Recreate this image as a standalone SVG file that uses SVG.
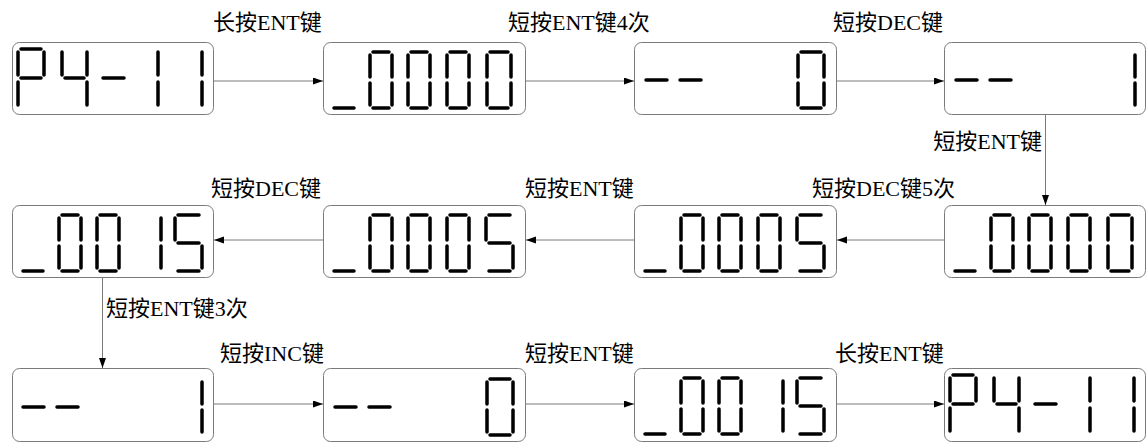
<svg xmlns="http://www.w3.org/2000/svg" width="1147" height="444" viewBox="0 0 1147 444">
<style>
.box{fill:#fff;stroke:#7a7a7a;stroke-width:1}
.seg{fill:none;stroke:#000;stroke-width:3.5;stroke-linecap:round}
.conn{fill:none;stroke:#7a7a7a;stroke-width:1;marker-end:url(#arr)}
.lbl{font-family:"Liberation Serif","Noto Sans CJK SC",serif;font-size:22px;fill:#000}
</style>
<defs>
<marker id="arr" markerUnits="userSpaceOnUse" markerWidth="11" markerHeight="8" refX="10" refY="3.5" orient="auto">
<path d="M0,0 L10,3.5 L0,7 z" fill="#000"/>
</marker>
<path id="p411" class="seg" d="M9,7H29 M6,10V33 M32,10V33 M9,36H29 M6,40V63 M50,10V33 M75,10V33 M53,36H72 M75,40V63 M91,36H112 M146,10V33 M146,40V63 M190,10V33 M190,40V63"/>
<path id="u0000" class="seg" d="M11,66H31 M50,10H66 M47,13V35 M69,13V35 M47,41V63 M69,41V63 M50,66H66 M88,10H104 M85,13V35 M107,13V35 M85,41V63 M107,41V63 M88,66H104 M127,10H143 M124,13V35 M146,13V35 M124,41V63 M146,41V63 M127,66H143 M167,10H185 M164,13V35 M188,13V35 M164,41V63 M188,41V63 M167,66H185"/>
<path id="dd0" class="seg" d="M12,38H33 M46,38H67 M167,10H187 M164,13V35 M190,13V35 M164,41V63 M190,41V63 M167,66H187"/>
<path id="dd1" class="seg" d="M12,38H33 M46,38H67 M191,13V35 M191,41V63"/>
<path id="u0005" class="seg" d="M11,66H31 M50,10H66 M47,13V35 M69,13V35 M47,41V63 M69,41V63 M50,66H66 M88,10H104 M85,13V35 M107,13V35 M85,41V63 M107,41V63 M88,66H104 M127,10H143 M124,13V35 M146,13V35 M124,41V63 M146,41V63 M127,66H143 M166,10H187 M163,13V35 M166,38H187 M190,41V63 M166,66H187"/>
<path id="u0015" class="seg" d="M11,66H31 M50,10H66 M47,13V35 M69,13V35 M47,41V63 M69,41V63 M50,66H66 M88,10H104 M85,13V35 M107,13V35 M85,41V63 M107,41V63 M88,66H104 M149,13V35 M149,41V63 M166,10H187 M163,13V35 M166,38H187 M190,41V63 M166,66H187"/>
</defs>

<g id="n1" transform="translate(12,42)"><rect class="box" x="0.5" y="0.5" width="201" height="72" rx="7"/><use href="#p411"/></g>
<g id="n2" transform="translate(323,42)"><rect class="box" x="0.5" y="0.5" width="202" height="72" rx="7"/><use href="#u0000"/></g>
<g id="n3" transform="translate(634,42)"><rect class="box" x="0.5" y="0.5" width="202" height="72" rx="7"/><use href="#dd0"/></g>
<g id="n4" transform="translate(944,42)"><rect class="box" x="0.5" y="0.5" width="201" height="72" rx="7"/><use href="#dd1"/></g>

<g id="n5" transform="translate(944,205)"><rect class="box" x="0.5" y="0.5" width="201" height="72" rx="7"/><use href="#u0000"/></g>
<g id="n6" transform="translate(634,205)"><rect class="box" x="0.5" y="0.5" width="202" height="72" rx="7"/><use href="#u0005"/></g>
<g id="n7" transform="translate(323,205)"><rect class="box" x="0.5" y="0.5" width="202" height="72" rx="7"/><use href="#u0005"/></g>
<g id="n8" transform="translate(12,205)"><rect class="box" x="0.5" y="0.5" width="201" height="72" rx="7"/><use href="#u0015"/></g>

<g id="n9" transform="translate(12,368)"><rect class="box" x="0.5" y="0.5" width="201" height="73" rx="7"/><use href="#dd1" transform="translate(-1,1)"/></g>
<g id="n10" transform="translate(323,368)"><rect class="box" x="0.5" y="0.5" width="202" height="73" rx="7"/><use href="#dd0" transform="translate(0,1)"/></g>
<g id="n11" transform="translate(634,368)"><rect class="box" x="0.5" y="0.5" width="202" height="73" rx="7"/><use href="#u0015" transform="translate(0,0)"/></g>
<g id="n12" transform="translate(944,368)"><rect class="box" x="0.5" y="0.5" width="201" height="73" rx="7"/><use href="#p411"/></g>

<g id="connectors">
<line class="conn" x1="214" y1="81" x2="323" y2="81"/>
<line class="conn" x1="526" y1="81" x2="634" y2="81"/>
<line class="conn" x1="837" y1="81" x2="944" y2="81"/>
<line class="conn" x1="1045.5" y1="115" x2="1045.5" y2="205"/>
<line class="conn" x1="944" y1="240" x2="837" y2="240"/>
<line class="conn" x1="634" y1="240" x2="526" y2="240"/>
<line class="conn" x1="323" y1="240" x2="214" y2="240"/>
<line class="conn" x1="102.5" y1="278" x2="102.5" y2="368"/>
<line class="conn" x1="214" y1="404" x2="323" y2="404"/>
<line class="conn" x1="526" y1="404" x2="634" y2="404"/>
<line class="conn" x1="837" y1="404" x2="944" y2="404"/>
</g>

<g id="labels">
<text class="lbl" x="213" y="30">长按ENT键</text>
<text class="lbl" x="508" y="30">短按ENT键4次</text>
<text class="lbl" x="833" y="30">短按DEC键</text>
<text class="lbl" x="1042" y="149" text-anchor="end">短按ENT键</text>
<text class="lbl" x="812" y="196">短按DEC键5次</text>
<text class="lbl" x="525" y="196">短按ENT键</text>
<text class="lbl" x="211" y="196">短按DEC键</text>
<text class="lbl" x="106" y="316">短按ENT键3次</text>
<text class="lbl" x="220" y="361">短按INC键</text>
<text class="lbl" x="525" y="361">短按ENT键</text>
<text class="lbl" x="835" y="361">长按ENT键</text>
</g>
</svg>
